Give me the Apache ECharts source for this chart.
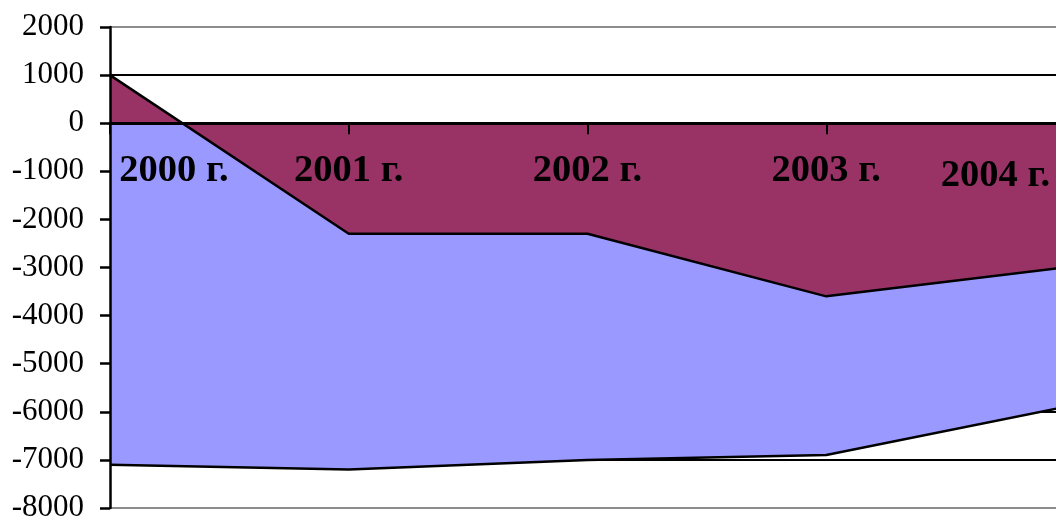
<!DOCTYPE html>
<html><head><meta charset="utf-8">
<script src="https://cdn.jsdelivr.net/npm/echarts@6/dist/echarts.min.js"></script>
<style>html,body{margin:0;padding:0;background:#fff}#c{width:1056px;height:521px}</style>
</head><body><div id="c"></div>
<script>
const categories = ['2000 г.', '2001 г.', '2002 г.', '2003 г.', '2004 г.'];
const seriesBlue = [-7100, -7200, -7000, -6900, -5900];
const seriesMaroon = [1000, -2300, -2300, -3600, -3000];
const yMin = -8000, yMax = 2000, yStep = 1000;

const font = 'Liberation Serif, Times New Roman, serif';
const nLines = (yMax - yMin) / yStep + 1;
const splitColors = [];
for (let i = 0; i < nLines; i++) splitColors.push(i === 0 || i === nLines - 1 ? '#8c8c8c' : '#000');

const gridTop = 27, gridBottom = 13, H = 521;
const plotH = H - gridTop - gridBottom;
const zeroOffset = -plotH * (0 - yMin) / (yMax - yMin);

const catData = categories.map(function (c, i) {
  if (i === 0) return { value: c, textStyle: { padding: [0, 0, 0, 128] } };
  if (i === categories.length - 1) return { value: c, textStyle: { padding: [5, 139, 0, 0] } };
  return c;
});

const chart = echarts.init(document.getElementById('c'));
chart.setOption({
  animation: false,
  backgroundColor: '#fff',
  grid: { left: 110, right: -9, top: gridTop, bottom: gridBottom, containLabel: false, outerBoundsMode: 'none' },
  xAxis: {
    type: 'category', data: catData, boundaryGap: false, z: 5, offset: zeroOffset,
    axisLine: { onZero: false, lineStyle: { color: '#000', width: 3 } },
    axisTick: { show: true, length: 11, lineStyle: { color: '#000', width: 2 } },
    axisLabel: {
      show: true, interval: 0, margin: 28, color: '#000', fontFamily: font, fontSize: 38.5, fontWeight: 'bold',
      hideOverlap: false
    },
    splitLine: { show: false }
  },
  yAxis: [{
    type: 'value', min: yMin, max: yMax, interval: yStep, z: 0,
    axisLine: { show: false }, axisTick: { show: false }, axisLabel: { show: false },
    splitLine: { show: true, lineStyle: { color: splitColors, width: 2 } }
  }, {
    type: 'value', min: yMin, max: yMax, interval: yStep, position: 'left', z: 5,
    axisLine: { show: true, lineStyle: { color: '#000', width: 2.5 } },
    axisTick: { show: true, length: 10, lineStyle: { color: '#000', width: 2.5 } },
    axisLabel: { margin: 26, color: '#000', fontFamily: font, fontSize: 31, formatter: function (v) { return String(v); } },
    splitLine: { show: false }
  }],
  series: [{
    type: 'line', data: seriesBlue, yAxisIndex: 0, symbol: 'none', z: 2,
    lineStyle: { color: '#000', width: 2.5 },
    areaStyle: { color: '#9999FF', opacity: 1, origin: 'auto' }
  }, {
    type: 'line', data: seriesMaroon, yAxisIndex: 0, symbol: 'none', z: 3,
    lineStyle: { color: '#000', width: 2.5 },
    areaStyle: { color: '#993366', opacity: 1, origin: 'auto' }
  }]
});
</script></body></html>
